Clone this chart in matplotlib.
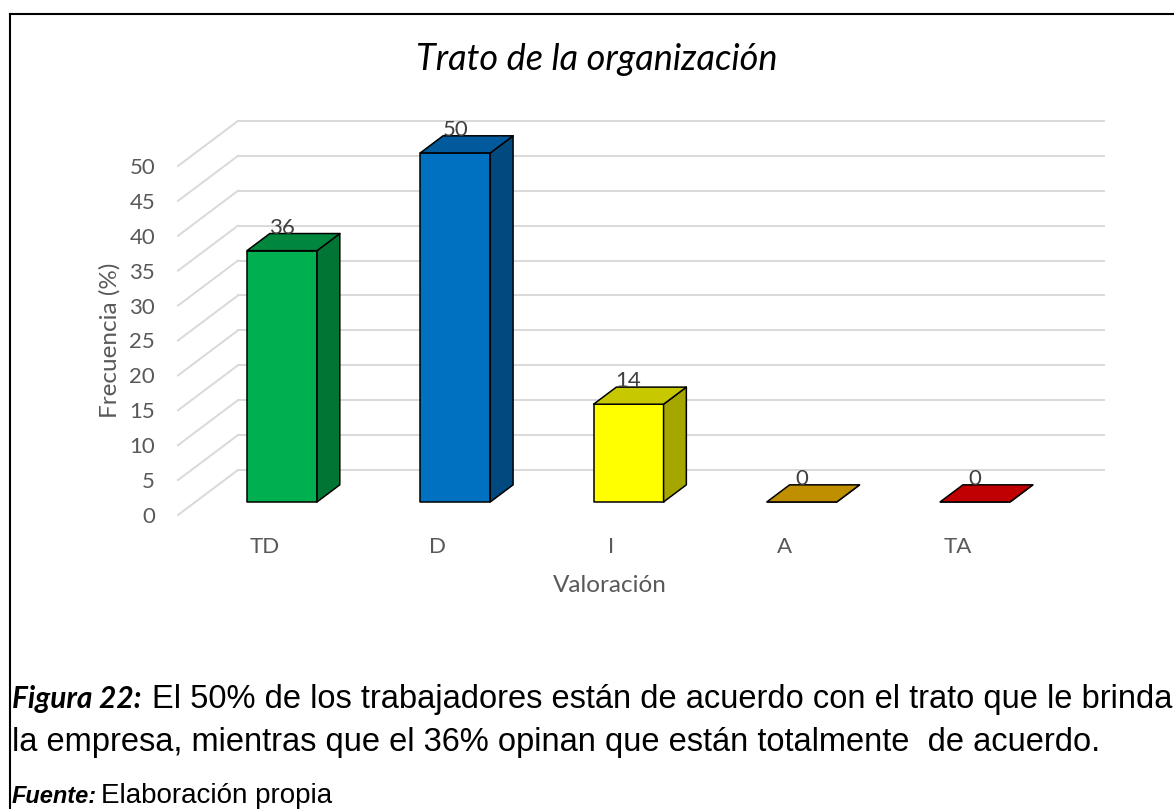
import matplotlib
matplotlib.use("Agg")
import matplotlib.pyplot as plt
from matplotlib.patches import Polygon
from matplotlib.lines import Line2D

# data
categorias = ["TD", "D", "I", "A", "TA"]
frecuencia = [36, 50, 14, 0, 0]
color_frente = ["#00B050", "#0070C0", "#FFFF00", "#BF8F00", "#C00000"]
color_lado = ["#007534", "#004A80", "#A6A600", "#7F5F00", "#800000"]
color_tapa = ["#00863D", "#005A9C", "#C8C800", "#BF8F00", "#C00000"]
yticks = list(range(0, 55, 5))

# oblique 3d look: depth offset in data units
DX, DY = 0.346, 6.45
ZF, ZB = 0.29, 0.67      # bar front / back depth
ANCHO = 0.404

plt.rcParams['font.family'] = ['Lato', 'DejaVu Sans']
gris = "#595959"

fig = plt.figure(figsize=(11.74, 8.09), dpi=100)
ax = fig.add_axes([178/1174, 1-515/809, 927/1174, 394.4/809])
ax.set_xlim(-0.5, 4.85)
ax.set_ylim(0, 56.5)
for s in ax.spines.values():
    s.set_visible(False)

# walls gridlines
for v in yticks:
    ax.plot([-0.5, -0.5+DX], [v, v+DY], color="#D9D9D9", lw=1.4, zorder=1, clip_on=False)
    ax.plot([-0.5+DX, 4.5+DX], [v+DY, v+DY], color="#D9D9D9", lw=1.4, zorder=1, clip_on=False)

def p(x, y, z):
    return (x + z*DX, y + z*DY)

for i, v in enumerate(frecuencia):
    x0, x1 = i - ANCHO/2, i + ANCHO/2
    frente = [p(x0, 0, ZF), p(x1, 0, ZF), p(x1, v, ZF), p(x0, v, ZF)]
    lado = [p(x1, 0, ZF), p(x1, 0, ZB), p(x1, v, ZB), p(x1, v, ZF)]
    tapa = [p(x0, v, ZF), p(x1, v, ZF), p(x1, v, ZB), p(x0, v, ZB)]
    for pts, c in [(frente, color_frente[i]), (lado, color_lado[i]), (tapa, color_tapa[i])]:
        ax.add_patch(Polygon(pts, closed=True, facecolor=c, edgecolor="black",
                             lw=1.1, joinstyle="round", zorder=3, clip_on=False))
    lx, ly = p(i, v, ZF)[0], v + ZB*DY
    ax.text(lx, ly, str(v), ha="center", va="baseline", fontsize=16,
            color="#404040", zorder=4)

ax.set_yticks(yticks)
ax.set_yticklabels([str(t) for t in yticks])
ax.set_xticks(range(len(categorias)))
ax.set_xticklabels(categorias)
ax.tick_params(axis="y", length=0, pad=16.5, labelsize=16, labelcolor=gris)
ax.tick_params(axis="x", length=0, pad=16, labelsize=16, labelcolor=gris)

ax.set_ylabel("Frecuencia (%)", fontsize=17.5, color=gris)
ax.yaxis.set_label_coords(-0.062, 25/56.5)
ax.set_xlabel("Valoración", fontsize=17.5, color=gris)
ax.xaxis.set_label_coords(0.466, -0.152)

fig.text(597/1174, 1-70/809, "Trato de la organización", ha="center", va="baseline",
         fontsize=26, style="italic", color="#000000")

# frame
fig.add_artist(Line2D([10/1174, 10/1174], [0, 1-14/809], color="black", lw=1.5,
                      transform=fig.transFigure))
fig.add_artist(Line2D([10/1174, 1], [1-14/809, 1-14/809], color="black", lw=1.5,
                      transform=fig.transFigure))

# caption
cap = 23.5
arial = ["Liberation Sans", "DejaVu Sans"]
fig.text(12/1174, 1-708/809, "Figura 22:", fontsize=21.5, fontweight="bold", style="italic",
         family=["Lato", "DejaVu Sans"], va="baseline")
fig.text(152/1174, 1-708/809,
         "El 50% de los trabajadores están de acuerdo con el trato que le brinda",
         fontsize=cap, family=arial, va="baseline")
fig.text(12/1174, 1-751/809,
         "la empresa, mientras que el 36% opinan que están totalmente  de acuerdo.",
         fontsize=cap, family=arial, va="baseline")
fig.text(12/1174, 1-803/809, "Fuente:", fontsize=17, fontweight="bold", style="italic",
         family=arial, va="baseline")
fig.text(101/1174, 1-803/809, "Elaboración propia", fontsize=20,
         family=arial, va="baseline")

fig.savefig("out.png", dpi=100)
